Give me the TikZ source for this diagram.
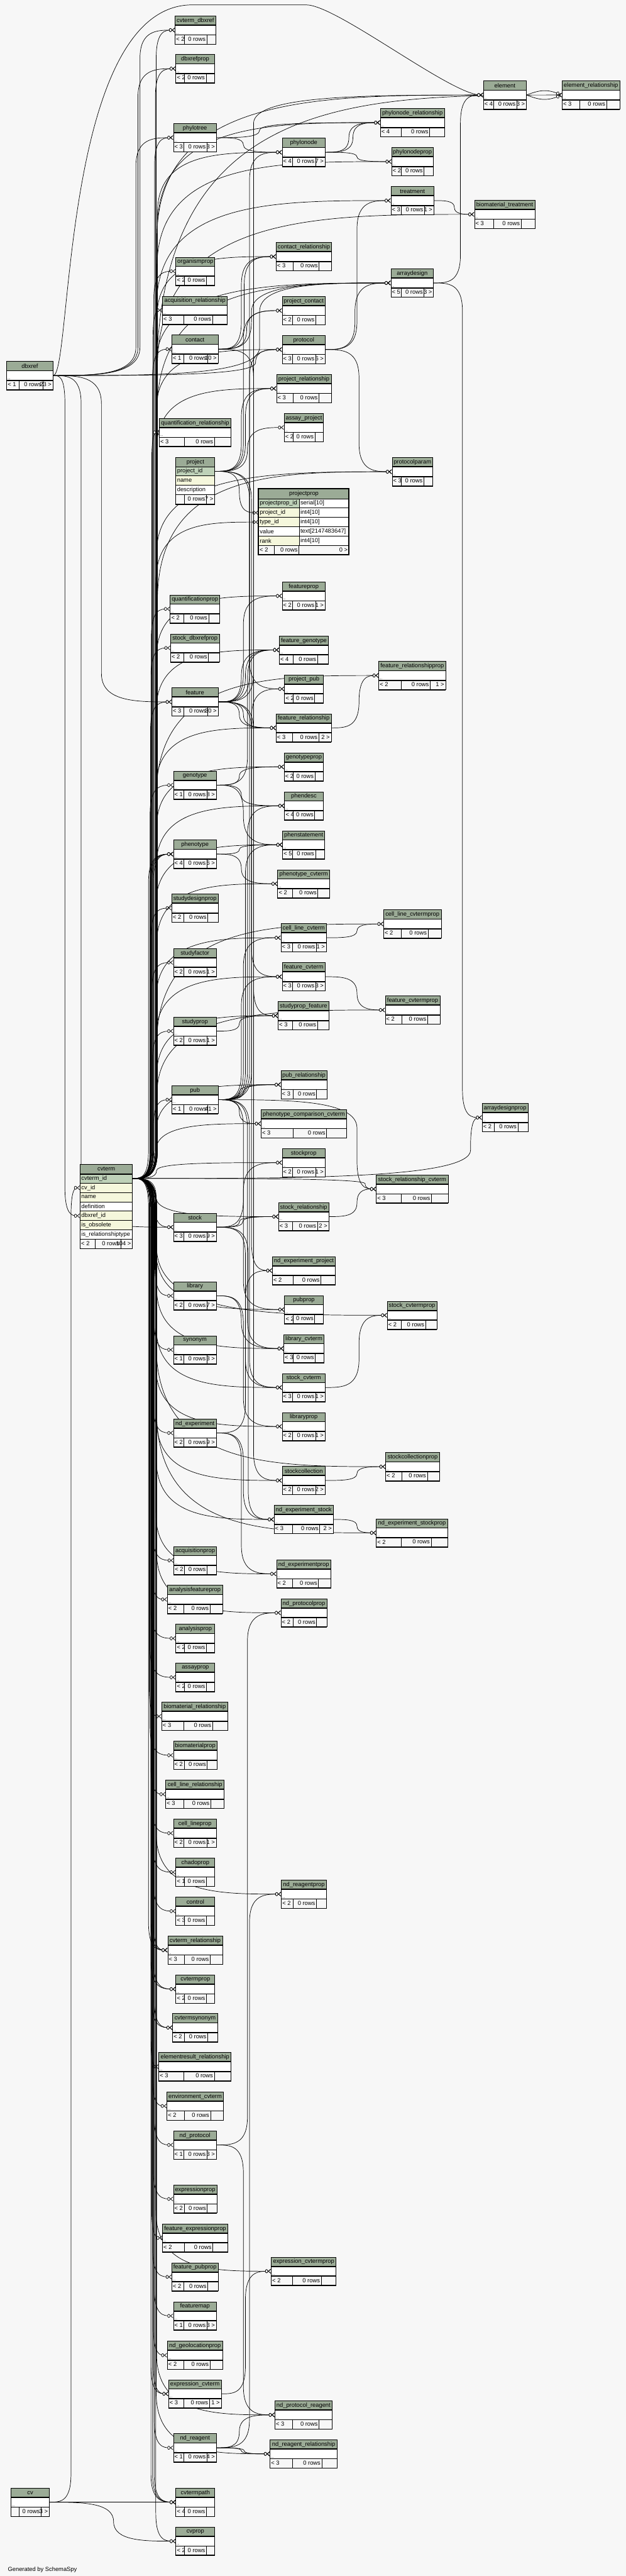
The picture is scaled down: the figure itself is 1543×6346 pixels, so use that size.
\documentclass[tikz,border=0pt]{standalone}
\usepackage{fontspec}
\setmainfont{Liberation Sans}
\usepackage{xcolor}
\usepackage{tikz}
\usetikzlibrary{arrows.meta, calc}

\definecolor{paper}{HTML}{F7F7F7}
\definecolor{headgreen}{HTML}{9BAB96}
\definecolor{keygreen}{HTML}{BED1B8}
\definecolor{idxyellow}{HTML}{F5F7DC}

\pgfdeclarelayer{ground}
\pgfdeclarelayer{links}
\pgfsetlayers{ground,links,main}

\newlength\tbll
\newlength\tblr
\newcommand\tblfont{\fontsize{14.5}{17}\selectfont}

\newcommand\tblfooter[6]{%
  \settowidth\tbll{\tblfont #5}\settowidth\tblr{\tblfont #6}%
  \pgfmathsetmacro\tblLw{max(17,\tbll+8)}%
  \pgfmathsetmacro\tblRw{max(18,\tblr+8)}%
  \pgfmathsetmacro\tblEx{#4-\tblLw-52-\tblRw}%
  \pgfmathsetmacro\tblDa{#2+\tblLw+\tblEx/2}%
  \pgfmathsetmacro\tblDb{#2+#4-\tblRw-\tblEx/4}%
  \node[tblfoot, minimum width=#4] (#1-f) at (#2,#3) {};
  \draw[cellline] (\tblDa,#3) -- ++(0,23) (\tblDb,#3) -- ++(0,23);
  \node[ftext, anchor=west] (#1-l) at (#2,#3+11.5) {#5};
  \node[ftext, anchor=east] (#1-n) at (\tblDb,#3+11.5) {0 rows};
  \node[ftext, anchor=east] (#1-r) at (#2+#4,#3+11.5) {#6};
  \draw[sepline] (#1-f.south west) -- (#1-f.south east);
}

\newcommand\tbl[6]{%
  \node[tblhead, minimum width=#4] (#1-h) at (#2,#3) {\detokenize{#1}};
  \node[tblbody, minimum width=#4] (#1) at (#2,#3+23) {};
  \node[dots, anchor=south west] (#1-d) at (#1.south west) {...};
  \tblfooter{#1}{#2}{#3+46}{#4}{#5}{#6}
  \draw[sepline] (#1.north west) -- (#1.north east) (#1.south west) -- (#1.south east);
}

\newcommand\fk[4][70]{%
  \draw[fkline] let \p1=(#3.east), \p2=(#4.west),
    \n1={((\y2>\y1)*2-1)*min(abs(\y2-\y1)/2,70)},
    \n2={((\y2>\y1)*2-1)*min(abs(\y2-\y1)/2,#1)} in
    (\p1) .. controls ({(\x1+#2)/2},\y1) and (#2,\y1) .. (#2,{\y1+\n1})
    -- (#2,{\y2-\n2}) .. controls (#2,\y2) and ({(#2+\x2)/2},\y2) .. (\p2);}

\newcommand\fkarc[3]{\draw[fkline] (#1.east) .. controls +(35,#3) and +(-35,#3) .. (#2.west);}

\begin{document}
\begin{tikzpicture}[x=1pt, y=-1pt,
    tblhead/.style={draw, fill=headgreen, line width=1.2pt, minimum height=23, inner sep=1pt, anchor=north west, font=\tblfont},
    tblbody/.style={draw, fill=white, line width=1.2pt, minimum height=23, inner sep=0pt, anchor=north west},
    tblfoot/.style={draw, fill=paper, line width=1.2pt, minimum height=23, inner sep=0pt, anchor=north west},
    colcell/.style={draw, line width=1.2pt, minimum height=23, inner xsep=3pt, inner ysep=0pt, anchor=north west, align=left, font=\tblfont},
    ftext/.style={inner xsep=3pt, inner ysep=0pt, font=\tblfont},
    dots/.style={inner sep=2pt, font=\fontsize{9}{10}\selectfont},
    cellline/.style={line width=1.2pt},
    sepline/.style={line width=2.4pt},
    fkline/.style={line width=1.1pt, -{Circle[length=7pt, width=9pt, fill=white] Straight Barb[reversed, length=6pt, width=10pt]}}
  ]
  \useasboundingbox (0,0) rectangle (1543,6346);
  \begin{pgfonlayer}{ground}
    \fill[paper] (0,0) rectangle (1543,6346);
  \end{pgfonlayer}

  \tbl{cvterm_dbxref}{431}{39}{100}{< 2}{}
  \tbl{dbxrefprop}{433}{134}{95}{< 2}{}
  \tbl{element}{1191}{199}{106}{< 4}{3 >}
  \tbl{element_relationship}{1385}{199}{142}{< 3}{}
  \tbl{phylonode_relationship}{937}{267}{158}{< 4}{}
  \tbl{phylotree}{427}{304}{106}{< 3}{3 >}
  \tbl{phylonode}{695}{340}{106}{< 4}{7 >}
  \tbl{phylonodeprop}{965}{363}{102}{< 2}{}
  \tbl{treatment}{963}{459}{106}{< 3}{1 >}
  \tbl{biomaterial_treatment}{1169}{493}{149}{< 3}{}
  \tbl{contact_relationship}{680}{597}{137}{< 3}{}
  \tbl{organismprop}{433}{633}{96}{< 2}{}
  \tbl{arraydesign}{963}{662}{105}{< 5}{3 >}
  \tbl{acquisition_relationship}{400}{729}{160}{< 3}{}
  \tbl{project_contact}{695}{730}{106}{< 2}{}
  \tbl{contact}{423}{825}{114}{< 1}{10 >}
  \tbl{protocol}{695}{826}{106}{< 3}{6 >}
  \tbl{dbxref}{16}{890}{114}{< 1}{23 >}
  \tbl{project_relationship}{681}{922}{135}{< 3}{}
  \tbl{assay_project}{700}{1018}{97}{< 2}{}
  \tbl{quantification_relationship}{392}{1030}{177}{< 3}{}
  \tbl{protocolparam}{966}{1127}{100}{< 3}{}
  \tbl{featureprop}{695}{1433}{106}{< 2}{1 >}
  \tbl{quantificationprop}{419}{1465}{122}{< 2}{}
  \tbl{stock_dbxrefprop}{420}{1561}{120}{< 2}{}
  \tbl{feature_genotype}{688}{1566}{121}{< 4}{}
  \tbl{feature_relationshipprop}{933}{1629}{165}{< 2}{1 >}
  \tbl{project_pub}{701}{1662}{95}{< 2}{}
  \tbl{feature}{423}{1694}{114}{< 3}{30 >}
  \tbl{feature_relationship}{680}{1758}{136}{< 3}{2 >}
  \tbl{genotypeprop}{700}{1854}{97}{< 2}{}
  \tbl{genotype}{427}{1899}{106}{< 1}{8 >}
  \tbl{phendesc}{701}{1950}{95}{< 4}{}
  \tbl{phenstatement}{696}{2046}{104}{< 5}{}
  \tbl{phenotype}{427}{2069}{106}{< 4}{6 >}
  \tbl{phenotype_cvterm}{684}{2142}{128}{< 2}{}
  \tbl{studydesignprop}{423}{2202}{114}{< 2}{}
  \tbl{cell_line_cvtermprop}{945}{2241}{142}{< 2}{}
  \tbl{cell_line_cvterm}{692}{2275}{112}{< 3}{1 >}
  \tbl{studyfactor}{427}{2336}{106}{< 2}{1 >}
  \tbl{feature_cvterm}{695}{2371}{106}{< 3}{3 >}
  \tbl{feature_cvtermprop}{949}{2453}{135}{< 2}{}
  \tbl{studyprop_feature}{685}{2467}{125}{< 3}{}
  \tbl{studyprop}{427}{2505}{106}{< 2}{1 >}
  \tbl{pub_relationship}{692}{2637}{113}{< 3}{}
  \tbl{pub}{423}{2674}{114}{< 1}{41 >}
  \tbl{arraydesignprop}{1188}{2718}{113}{< 2}{}
  \tbl{phenotype_comparison_cvterm}{643}{2733}{211}{< 3}{}
  \tbl{stockprop}{695}{2829}{106}{< 2}{1 >}
  \tbl{stock_relationship_cvterm}{927}{2894}{177}{< 3}{}
  \tbl{stock_relationship}{686}{2962}{124}{< 3}{2 >}
  \tbl{stock}{427}{2988}{106}{< 3}{9 >}
  \tbl{nd_experiment_project}{671}{3095}{155}{< 2}{}
  \tbl{library}{427}{3157}{106}{< 2}{7 >}
  \tbl{pubprop}{701}{3191}{95}{< 2}{}
  \tbl{stock_cvtermprop}{954}{3205}{122}{< 2}{}
  \tbl{library_cvterm}{699}{3287}{99}{< 3}{}
  \tbl{synonym}{427}{3290}{106}{< 1}{3 >}
  \tbl{stock_cvterm}{695}{3383}{106}{< 3}{1 >}
  \tbl{libraryprop}{695}{3479}{106}{< 2}{1 >}
  \tbl{nd_experiment}{427}{3495}{106}{< 2}{9 >}
  \tbl{stockcollectionprop}{950}{3578}{133}{< 2}{}
  \tbl{stockcollection}{695}{3612}{106}{< 2}{2 >}
  \tbl{nd_experiment_stock}{675}{3708}{146}{< 3}{2 >}
  \tbl{nd_experiment_stockprop}{927}{3741}{176}{< 2}{}
  \tbl{acquisitionprop}{428}{3809}{105}{< 2}{}
  \tbl{nd_experimentprop}{681}{3842}{134}{< 2}{}
  \tbl{analysisfeatureprop}{412}{3905}{136}{< 2}{}
  \tbl{nd_protocolprop}{692}{3938}{113}{< 2}{}
  \tbl{analysisprop}{433}{4001}{96}{< 2}{}
  \tbl{assayprop}{433}{4097}{96}{< 2}{}
  \tbl{biomaterial_relationship}{398}{4193}{163}{< 3}{}
  \tbl{biomaterialprop}{427}{4289}{107}{< 2}{}
  \tbl{cell_line_relationship}{408}{4385}{144}{< 3}{}
  \tbl{cell_lineprop}{427}{4481}{106}{< 2}{1 >}
  \tbl{chadoprop}{433}{4577}{96}{< 1}{}
  \tbl{nd_reagentprop}{693}{4631}{111}{< 2}{}
  \tbl{control}{433}{4673}{96}{< 3}{}
  \tbl{cvterm_relationship}{413}{4769}{135}{< 3}{}
  \tbl{cvtermprop}{433}{4865}{96}{< 2}{}
  \tbl{cvtermsynonym}{425}{4960}{111}{< 2}{}
  \tbl{elementresult_relationship}{391}{5056}{178}{< 3}{}
  \tbl{environment_cvterm}{411}{5153}{139}{< 2}{}
  \tbl{nd_protocol}{427}{5249}{106}{< 1}{3 >}
  \tbl{expressionprop}{427}{5382}{107}{< 2}{}
  \tbl{feature_expressionprop}{400}{5478}{161}{< 2}{}
  \tbl{expression_cvtermprop}{668}{5560}{160}{< 2}{}
  \tbl{feature_pubprop}{423}{5574}{114}{< 2}{}
  \tbl{featuremap}{427}{5670}{106}{< 1}{3 >}
  \tbl{nd_geolocationprop}{412}{5767}{136}{< 2}{}
  \tbl{expression_cvterm}{415}{5862}{130}{< 3}{1 >}
  \tbl{nd_protocol_reagent}{677}{5914}{141}{< 3}{}
  \tbl{nd_reagent}{427}{5995}{106}{< 1}{4 >}
  \tbl{nd_reagent_relationship}{665}{6010}{166}{< 3}{}
  \tbl{cv}{27}{6129}{94}{}{3 >}
  \tbl{cvtermpath}{433}{6129}{96}{< 4}{}
  \tbl{cvprop}{433}{6225}{96}{< 2}{}

  \node[tblhead, minimum width=96] (project-h) at (433,1126) {project};
  \node[colcell, fill=keygreen, text width=90pt] (project) at (433,1149) {project\_id};
  \node[colcell, fill=idxyellow, text width=90pt] (project-name) at (433,1172) {name};
  \node[colcell, fill=white, text width=90pt] (project-desc) at (433,1195) {description};
  \tblfooter{project}{433}{1218}{96}{}{7 >}
  \draw[sepline] (project-h.south west) -- (project-h.south east);

  \node[tblhead, minimum width=223, minimum height=24] (projectprop-h) at (637,1204) {projectprop};
  \node[colcell, fill=keygreen, text width=94pt] (projectprop-pk) at (637,1228) {projectprop\_id};
  \node[colcell, fill=white, text width=117pt] (projectprop-pkt) at (737,1228) {serial[10]};
  \node[colcell, fill=idxyellow, text width=94pt] (projectprop-proj) at (637,1251) {project\_id};
  \node[colcell, fill=white, text width=117pt] (projectprop-projt) at (737,1251) {int4[10]};
  \node[colcell, fill=idxyellow, text width=94pt] (projectprop-type) at (637,1274) {type\_id};
  \node[colcell, fill=white, text width=117pt] (projectprop-typet) at (737,1274) {int4[10]};
  \node[colcell, fill=white, text width=94pt] (projectprop-val) at (637,1297) {value};
  \node[colcell, fill=white, text width=117pt] (projectprop-valt) at (737,1297) {text[2147483647]};
  \node[colcell, fill=idxyellow, text width=94pt] (projectprop-rank) at (637,1320) {rank};
  \node[colcell, fill=white, text width=117pt] (projectprop-rankt) at (737,1320) {int4[10]};
  \node[tblfoot, minimum width=223] (projectprop-f) at (637,1343) {};
  \draw[cellline] (676,1343) -- ++(0,23) (737,1343) -- ++(0,23);
  \node[ftext, anchor=west] (projectprop-l) at (637,1354.5) {< 2};
  \node[ftext, anchor=east] (projectprop-n) at (737,1354.5) {0 rows};
  \node[ftext, anchor=east] (projectprop-r) at (860,1354.5) {0 >};
  \draw[line width=3pt] (637,1204) rectangle (860,1366);

  \node[tblhead, minimum width=129] (cvterm-h) at (197,2868) {cvterm};
  \node[colcell, fill=keygreen, text width=123pt] (cvterm) at (197,2891) {cvterm\_id};
  \node[colcell, fill=idxyellow, text width=123pt] (cvterm-cv) at (197,2914) {cv\_id};
  \node[colcell, fill=idxyellow, text width=123pt] (cvterm-name) at (197,2937) {name};
  \node[colcell, fill=white, text width=123pt] (cvterm-def) at (197,2960) {definition};
  \node[colcell, fill=idxyellow, text width=123pt] (cvterm-dbx) at (197,2983) {dbxref\_id};
  \node[colcell, fill=idxyellow, text width=123pt] (cvterm-obs) at (197,3006) {is\_obsolete};
  \node[colcell, fill=white, text width=123pt] (cvterm-rel) at (197,3029) {is\_relationshiptype};
  \tblfooter{cvterm}{197}{3052}{129}{< 2}{104 >}
  \draw[sepline] (cvterm-h.south west) -- (cvterm-h.south east);

  \node[anchor=west, font=\tblfont] (credit) at (16,6330) {Generated by SchemaSpy};

  \begin{pgfonlayer}{links}
    \fk{385}{cvterm}{cvterm_dbxref}
    \fk{383}{cvterm}{dbxrefprop}
    \fk{381}{cvterm}{phylotree}
    \fk{379}{cvterm}{organismprop}
    \fk{377}{cvterm}{acquisition_relationship}
    \fk{376}{cvterm}{contact}
    \fk{374}{cvterm}{quantification_relationship}
    \fk{373}{cvterm}{quantificationprop}
    \fk{372}{cvterm}{stock_dbxrefprop}
    \fk{371}{cvterm}{feature}
    \fk{370}{cvterm}{genotype}
    \fk{366}{cvterm}{phenotype}
    \fk{370}{cvterm}{phenotype}
    \fk{374}{cvterm}{phenotype}
    \fk{378}{cvterm}{phenotype}
    \fk{372}{cvterm}{studydesignprop}
    \fk{374}{cvterm}{studyfactor}
    \fk{376}{cvterm}{studyprop}
    \fk{378}{cvterm}{pub}
    \fk{380}{cvterm}{stock}
    \fk{382}{cvterm}{library}
    \fk{380}{cvterm}{synonym}
    \fk{378}{cvterm}{nd_experiment}
    \fk{376}{cvterm}{acquisitionprop}
    \fk{374}{cvterm}{analysisfeatureprop}
    \fk{372}{cvterm}{analysisprop}
    \fk{370}{cvterm}{assayprop}
    \fk{368}{cvterm}{biomaterial_relationship}
    \fk{370}{cvterm}{biomaterialprop}
    \fk{372}{cvterm}{cell_line_relationship}
    \fk{374}{cvterm}{cell_lineprop}
    \fk{376}{cvterm}{chadoprop}
    \fk{378}{cvterm}{control}
    \fk{366}{cvterm}{cvterm_relationship}
    \fk{372}{cvterm}{cvterm_relationship}
    \fk{378}{cvterm}{cvterm_relationship}
    \fk{372}{cvterm}{cvtermprop}
    \fk{378}{cvterm}{cvtermprop}
    \fk{374}{cvterm}{cvtermsynonym}
    \fk{380}{cvterm}{cvtermsynonym}
    \fk{372}{cvterm}{elementresult_relationship}
    \fk{376}{cvterm}{environment_cvterm}
    \fk{380}{cvterm}{nd_protocol}
    \fk{378}{cvterm}{expressionprop}
    \fk{374}{cvterm}{feature_expressionprop}
    \fk{376}{cvterm}{feature_pubprop}
    \fk{380}{cvterm}{featuremap}
    \fk{378}{cvterm}{nd_geolocationprop}
    \fk{372}{cvterm}{expression_cvterm}
    \fk{378}{cvterm}{expression_cvterm}
    \fk{380}{cvterm}{nd_reagent}
    \fk{372}{cvterm}{cvtermpath}
    \fk{376}{cvterm}{cvtermpath}
    \fk{380}{cvterm}{cvtermpath}
    \fk{384}{cvterm}{cvprop}

    \fk[150]{388}{cvterm}{phylonode}
    \fk[150]{387}{cvterm}{contact_relationship}
    \fk[150]{386}{cvterm}{project_relationship}
    \fk[150]{385}{cvterm}{protocol}
    \fk[150]{384}{cvterm}{projectprop-type}
    \fk[150]{386}{cvterm}{featureprop}
    \fk[150]{385}{cvterm}{feature_genotype}
    \fk[150]{384}{cvterm}{feature_relationship}
    \fk[150]{386}{cvterm}{genotypeprop}
    \fk[150]{385}{cvterm}{phendesc}
    \fk[150]{384}{cvterm}{phenstatement}
    \fk[150]{386}{cvterm}{phenotype_cvterm}
    \fk[150]{385}{cvterm}{cell_line_cvterm}
    \fk[150]{384}{cvterm}{feature_cvterm}
    \fk[150]{386}{cvterm}{studyprop_feature}
    \fk[150]{385}{cvterm}{pub_relationship}
    \fk[150]{384}{cvterm}{phenotype_comparison_cvterm}
    \fk[150]{386}{cvterm}{stockprop}
    \fk[150]{385}{cvterm}{stock_relationship}
    \fk[150]{384}{cvterm}{pubprop}
    \fk[150]{386}{cvterm}{library_cvterm}
    \fk[150]{385}{cvterm}{stock_cvterm}
    \fk[150]{384}{cvterm}{libraryprop}
    \fk[150]{386}{cvterm}{stockcollection}
    \fk[150]{385}{cvterm}{nd_experiment_stock}
    \fk[150]{384}{cvterm}{nd_experimentprop}
    \fk[150]{386}{cvterm}{nd_protocolprop}
    \fk[150]{385}{cvterm}{nd_reagentprop}
    \fk[150]{384}{cvterm}{expression_cvtermprop}
    \fk[150]{386}{cvterm}{nd_protocol_reagent}
    \fk[150]{385}{cvterm}{nd_reagent_relationship}

    \fk[260]{388}{cvterm}{phylonode_relationship}
    \fk[260]{387}{cvterm}{phylonodeprop}
    \fk[260]{386}{cvterm}{treatment}
    \fk[200]{385}{cvterm}{arraydesign}
    \fk[320]{387}{cvterm}{arraydesign}
    \fk[200]{386}{cvterm}{protocolparam}
    \fk[320]{388}{cvterm}{protocolparam}
    \fk[300]{385}{cvterm}{feature_relationshipprop}
    \fk[300]{386}{cvterm}{cell_line_cvtermprop}
    \fk[300]{387}{cvterm}{feature_cvtermprop}
    \fk{900}{cvterm}{stock_relationship_cvterm}
    \fk[300]{386}{cvterm}{stock_cvtermprop}
    \fk[300]{385}{cvterm}{stockcollectionprop}
    \fk[300]{386}{cvterm}{nd_experiment_stockprop}
    \fk[350]{387}{cvterm}{element}
    \fk[700]{386}{cvterm}{element_relationship}
    \fk[380]{388}{cvterm}{biomaterial_treatment}
    \fk{1160}{cvterm}{arraydesignprop}

    \draw[fkline] (dbxref.east) .. controls (178,924) and (150,20) .. (470,12) -- (755,12)
      .. controls (830,12) and (1110,233) .. (element.west);
    \fk{345}{dbxref}{cvterm_dbxref}
    \fk{340}{dbxref}{dbxrefprop}
    \fk{335}{dbxref}{phylotree}
    \fk{640}{dbxref}{arraydesign}
    \fk{630}{dbxref}{protocol}
    \fk{250}{dbxref}{feature}
    \fk{200}{dbxref}{stock}
    \fk{160}{dbxref}{cvterm-dbx}

    \fk{175}{cv}{cvterm-cv}
    \fk{300}{cv}{cvtermpath}
    \fk{280}{cv}{cvprop}

    \fk{590}{project}{projectprop-proj}
    \fk{600}{project}{project_contact}
    \fk{595}{project}{project_relationship}
    \fk{605}{project}{project_relationship}
    \fk{610}{project}{assay_project}
    \fk{615}{project}{project_pub}
    \fk{620}{project}{nd_experiment_project}

    \fk{595}{contact}{contact_relationship}
    \fk{602}{contact}{contact_relationship}
    \fk{608}{contact}{project_contact}
    \fk{620}{contact}{arraydesign}
    \fk{625}{contact}{stockcollection}

    \fk{875}{protocol}{arraydesign}
    \fk{880}{protocol}{treatment}
    \fk{885}{protocol}{protocolparam}

    \fk{615}{pub}{protocol}
    \fk{620}{pub}{project_pub}
    \fk{610}{pub}{phendesc}
    \fk{605}{pub}{phenstatement}
    \fk{600}{pub}{cell_line_cvterm}
    \fk{595}{pub}{feature_cvterm}
    \fk{590}{pub}{pub_relationship}
    \fk{600}{pub}{pub_relationship}
    \fk{590}{pub}{phenotype_comparison_cvterm}
    \fk{880}{pub}{stock_relationship_cvterm}
    \fk{600}{pub}{pubprop}
    \fk{610}{pub}{library_cvterm}
    \fk{615}{pub}{stock_cvterm}

    \fk{625}{feature}{element}
    \fk{615}{feature}{phylonode}
    \fk{600}{feature}{featureprop}
    \fk{595}{feature}{feature_genotype}
    \fk{605}{feature}{feature_genotype}
    \fk{590}{feature}{feature_relationship}
    \fk{600}{feature}{feature_relationship}
    \fk{620}{feature}{feature_cvterm}
    \fk{625}{feature}{studyprop_feature}

    \fk{610}{genotype}{feature_genotype}
    \fk{590}{genotype}{genotypeprop}
    \fk{595}{genotype}{phendesc}
    \fk{600}{genotype}{phenstatement}
    \fk{590}{phenotype}{phenstatement}
    \fk{595}{phenotype}{phenotype_cvterm}
    \fk{590}{studyprop}{studyprop_feature}

    \fk{600}{stock}{stockprop}
    \fk{590}{stock}{stock_relationship}
    \fk{598}{stock}{stock_relationship}
    \fk{605}{stock}{stock_cvterm}
    \fk{612}{stock}{nd_experiment_stock}
    \fk{595}{library}{library_cvterm}
    \fk{600}{library}{libraryprop}
    \fk{605}{nd_experiment}{nd_experiment_project}
    \fk{600}{nd_experiment}{nd_experiment_stock}
    \fk{595}{nd_experiment}{nd_experimentprop}
    \fk{610}{nd_protocol}{nd_protocolprop}
    \fk{600}{nd_protocol}{nd_protocol_reagent}
    \fk{615}{nd_reagent}{nd_reagentprop}
    \fk{590}{nd_reagent}{nd_protocol_reagent}
    \fk{595}{nd_reagent}{nd_reagent_relationship}
    \fk{602}{nd_reagent}{nd_reagent_relationship}
    \fk{605}{expression_cvterm}{expression_cvtermprop}

    \fk{600}{phylotree}{phylonode}
    \fk{640}{phylotree}{phylonode_relationship}
    \fk{860}{phylonode}{phylonode_relationship}
    \fk{870}{phylonode}{phylonode_relationship}
    \fk{880}{phylonode}{phylonodeprop}
    \fk{1120}{treatment}{biomaterial_treatment}
    \fk{1135}{arraydesign}{element}
    \fk{1140}{arraydesign}{arraydesignprop}
    \fkarc{element}{element_relationship}{-14}
    \fkarc{element}{element_relationship}{14}
    \fk{880}{cell_line_cvterm}{cell_line_cvtermprop}
    \fk{880}{feature_cvterm}{feature_cvtermprop}
    \fk{885}{feature_relationship}{feature_relationshipprop}
    \fk{880}{stock_relationship}{stock_relationship_cvterm}
    \fk{885}{stock_cvterm}{stock_cvtermprop}
    \fk{880}{stockcollection}{stockcollectionprop}
    \fk{880}{nd_experiment_stock}{nd_experiment_stockprop}
  \end{pgfonlayer}
\end{tikzpicture}
\end{document}
